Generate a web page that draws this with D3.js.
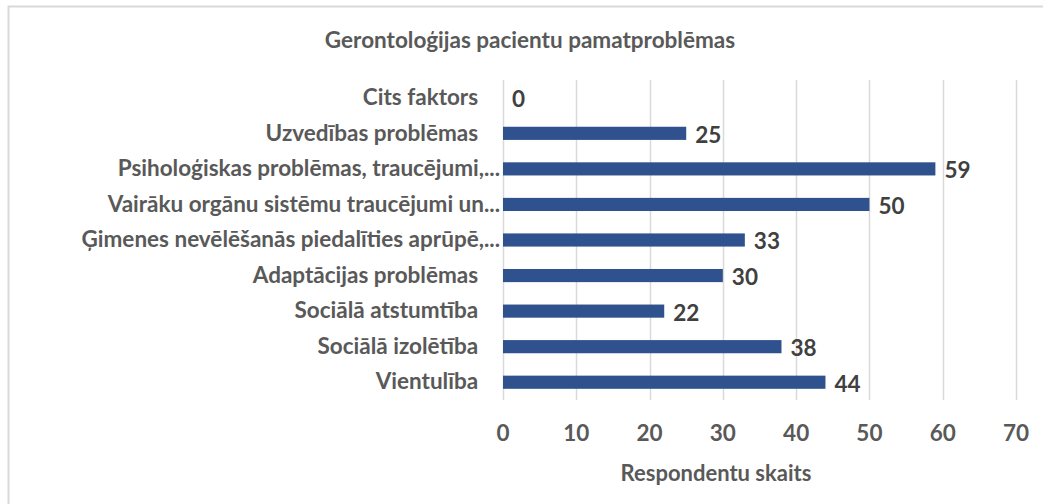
<!DOCTYPE html>
<html>
<head>
<meta charset="utf-8">
<script src="https://cdn.jsdelivr.net/npm/d3@7"></script>
<style>
  body { margin: 0; background: #fff; }
  text { font-family: Lato, "Open Sans", sans-serif; }
</style>
</head>
<body>
<div id="chart"></div>
<script>
// data
var pad = "\u00a0\u00a0\u00a0\u00a0";
var categories = [
  "Cits faktors" + pad,
  "Uzvedības problēmas" + pad,
  "Psiholoģiskas problēmas, traucējumi,...",
  "Vairāku orgānu sistēmu traucējumi un...",
  "Ģimenes nevēlēšanās piedalīties aprūpē,...",
  "Adaptācijas problēmas" + pad,
  "Sociālā atstumtība" + pad,
  "Sociālā izolētība" + pad,
  "Vientulība" + pad
];
var values = [0, 25, 59, 50, 33, 30, 22, 38, 44];
var xTicks = [0, 10, 20, 30, 40, 50, 60, 70];
var title = "Gerontoloģijas pacientu pamatproblēmas";
var xTitle = "Respondentu skaits";

// config
var W = 1043, H = 504;
var barColor = "#2F528F";
var gridColor = "#D9D9D9";
var textColor = "#595959";
var fs = 22.5;

var svg = d3.select("#chart").append("svg")
  .attr("width", W)
  .attr("height", H);

// chart border
svg.append("rect")
  .attr("x", 8.5).attr("y", 6.5)
  .attr("width", W + 10).attr("height", H + 10)
  .attr("fill", "#fff")
  .attr("stroke", "#D9D9D9")
  .attr("stroke-width", 2);

var x = d3.scaleLinear().domain([0, 70]).range([503, 1016]);
var y = d3.scaleBand().domain(categories).range([80, 400])
  .paddingInner(0.63).paddingOuter(0.315);

// gridlines
svg.append("g")
  .selectAll("line")
  .data(xTicks)
  .enter()
  .append("line")
  .attr("x1", function(d) { return Math.round(x(d)) + 0.5; })
  .attr("x2", function(d) { return Math.round(x(d)) + 0.5; })
  .attr("y1", 80).attr("y2", 400)
  .attr("stroke", gridColor)
  .attr("stroke-width", 1.5);

// bars
svg.append("g")
  .selectAll("rect")
  .data(values)
  .enter()
  .append("rect")
  .attr("x", x(0))
  .attr("y", function(d, i) { return y(categories[i]); })
  .attr("width", function(d) { return x(d) - x(0); })
  .attr("height", y.bandwidth())
  .attr("fill", barColor);

// value labels
svg.append("g")
  .selectAll("text")
  .data(values)
  .enter()
  .append("text")
  .attr("x", function(d) { return x(d) + 9; })
  .attr("y", function(d, i) { return y(categories[i]) + y.bandwidth() / 2; })
  .attr("dy", "0.42em")
  .attr("font-size", fs)
  .attr("font-weight", "bold")
  .attr("fill", "#404040")
  .text(function(d) { return d; });

// category labels
svg.append("g")
  .selectAll("text")
  .data(categories)
  .enter()
  .append("text")
  .attr("x", 500)
  .attr("y", function(d) { return y(d) + y.bandwidth() / 2; })
  .attr("dy", "0.32em")
  .attr("text-anchor", "end")
  .attr("font-size", fs)
  .attr("font-weight", "bold")
  .attr("fill", textColor)
  .text(function(d) { return d; });

// x axis tick labels
svg.append("g")
  .selectAll("text")
  .data(xTicks)
  .enter()
  .append("text")
  .attr("x", function(d) { return x(d); })
  .attr("y", 441)
  .attr("text-anchor", "middle")
  .attr("font-size", fs)
  .attr("font-weight", "bold")
  .attr("fill", textColor)
  .text(function(d) { return d; });

// axis title
svg.append("text")
  .attr("x", 716).attr("y", 481)
  .attr("text-anchor", "middle")
  .attr("font-size", 22)
  .attr("font-weight", "bold")
  .attr("fill", textColor)
  .text(xTitle);

// chart title
svg.append("text")
  .attr("x", 530).attr("y", 48)
  .attr("text-anchor", "middle")
  .attr("font-size", fs)
  .attr("font-weight", "bold")
  .attr("fill", textColor)
  .text(title);
</script>
</body>
</html>
